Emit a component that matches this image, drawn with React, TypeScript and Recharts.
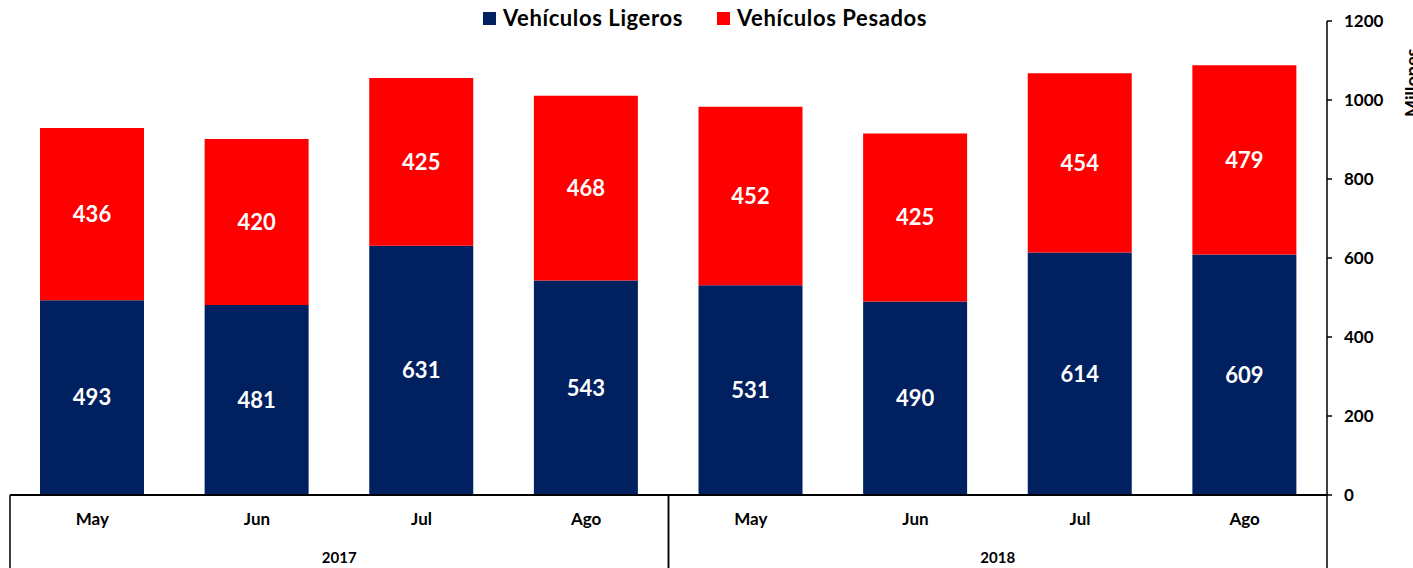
import React from "react";
import { BarChart, Bar, XAxis, YAxis, LabelList } from "recharts";

const months = ["May", "Jun", "Jul", "Ago", "May", "Jun", "Jul", "Ago"];
const years = ["2017", "2017", "2017", "2017", "2018", "2018", "2018", "2018"];
const ligeros = [493, 481, 631, 543, 531, 490, 614, 609];
const pesados = [436, 420, 425, 468, 452, 425, 454, 479];
const yTicks = [0, 200, 400, 600, 800, 1000, 1200];

const NAVY = "#002060";
const RED = "#FF0000";
const FONT = "Lato, 'Open Sans', sans-serif";

const WIDTH = 1413;
const HEIGHT = 568;
const PLOT_LEFT = 10;
const Y_AXIS_W = 86;
const PLOT_RIGHT = WIDTH - Y_AXIS_W;
const MONTH_AXIS_H = 35;
const YEAR_AXIS_H = 38;

const data = months.map((m, i) => ({
  key: `${years[i]}-${m}`,
  month: m,
  year: years[i],
  ligeros: ligeros[i],
  pesados: pesados[i],
}));

function MonthTick({ x, y, payload }: any) {
  return (
    <text x={x} y={y + 22} textAnchor="middle" fontFamily={FONT} fontWeight={700} fontSize={17} fill="#000">
      {months[payload.index] ?? payload.value}
    </text>
  );
}

function YearTick({ x, y, payload }: any) {
  const half = (PLOT_RIGHT - PLOT_LEFT) / 4;
  return (
    <g>
      <line x1={x - half} x2={x - half} y1={y - MONTH_AXIS_H} y2={y + YEAR_AXIS_H} stroke="#000" strokeWidth={1.5} />
      <line x1={x + half} x2={x + half} y1={y - MONTH_AXIS_H} y2={y + YEAR_AXIS_H} stroke="#000" strokeWidth={1.5} />
      <text x={x} y={y + 33} textAnchor="middle" fontFamily={FONT} fontWeight={700} fontSize={15} fill="#000">
        {payload.value}
      </text>
    </g>
  );
}

function Legend2() {
  const items = [
    { name: "Vehículos Ligeros", color: NAVY },
    { name: "Vehículos Pesados", color: RED },
  ];
  return (
    <div
      style={{
        position: "absolute",
        top: 4,
        left: 0,
        width: 1410,
        display: "flex",
        justifyContent: "center",
        gap: 34,
        fontFamily: FONT,
        fontWeight: 700,
        fontSize: 22,
        letterSpacing: 0.6,
        color: "#000",
        lineHeight: "28px",
      }}
    >
      {items.map((it) => (
        <div key={it.name} style={{ display: "flex", alignItems: "center" }}>
          <span style={{ display: "inline-block", width: 13, height: 13, background: it.color, marginRight: 7 }} />
          {it.name}
        </div>
      ))}
    </div>
  );
}

export default function App() {
  return (
    <div style={{ position: "absolute", left: 0, top: 0, width: WIDTH, height: HEIGHT, background: "#fff", overflow: "hidden" }}>
      <BarChart
        width={WIDTH}
        height={HEIGHT}
        data={data}
        margin={{ top: 21, right: 0, left: PLOT_LEFT, bottom: 0 }}
        barSize={104}
      >
        <XAxis
          xAxisId="month"
          dataKey="key"
          height={MONTH_AXIS_H}
          tick={<MonthTick />}
          tickLine={false}
          axisLine={{ stroke: "#000", strokeWidth: 2 }}
          interval={0}
        />
        <XAxis
          xAxisId="year"
          dataKey="year"
          allowDuplicatedCategory={false}
          height={YEAR_AXIS_H}
          tick={<YearTick />}
          tickLine={false}
          tickSize={0}
          tickMargin={0}
          axisLine={false}
          interval={0}
        />
        <YAxis
          orientation="right"
          width={Y_AXIS_W}
          domain={[0, 1200]}
          ticks={yTicks}
          interval={0}
          tickSize={5}
          tickMargin={12}
          tickLine={{ stroke: "#000", strokeWidth: 1.5 }}
          axisLine={{ stroke: "#000", strokeWidth: 1.5 }}
          tick={{ fill: "#000", fontFamily: FONT, fontWeight: 700, fontSize: 17, textAnchor: "start" }}
        />
        <Bar xAxisId="month" dataKey="ligeros" stackId="a" fill={NAVY} isAnimationActive={false}>
          <LabelList dataKey="ligeros" position="center" fill="#fff" fontFamily={FONT} fontWeight={700} fontSize={22} />
        </Bar>
        <Bar xAxisId="month" dataKey="pesados" stackId="a" fill={RED} isAnimationActive={false}>
          <LabelList dataKey="pesados" position="center" fill="#fff" fontFamily={FONT} fontWeight={700} fontSize={22} />
        </Bar>
      </BarChart>
      <svg width={WIDTH} height={HEIGHT} style={{ position: "absolute", left: 0, top: 0, pointerEvents: "none" }}>
        <text x={1419} y={117} transform="rotate(-90 1419 117)" fontFamily={FONT} fontWeight={700} fontSize={18} fill="#000">
          Millones
        </text>
      </svg>
      <Legend2 />
    </div>
  );
}
